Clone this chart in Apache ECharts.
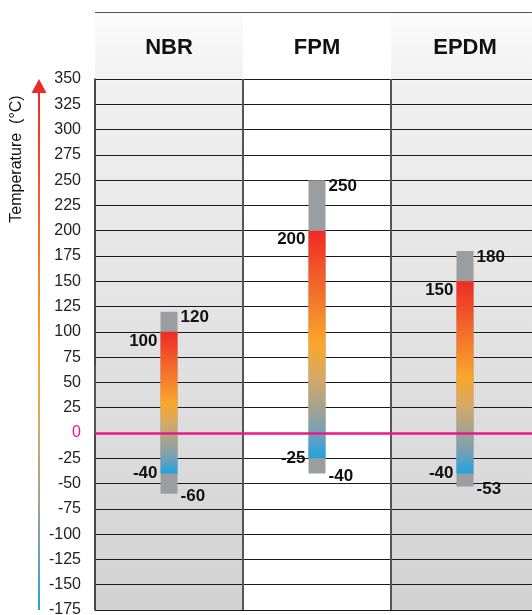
<!DOCTYPE html>
<html><head><meta charset="utf-8">
<script src="https://cdn.jsdelivr.net/npm/echarts@6/dist/echarts.min.js"></script>
<style>html,body{margin:0;padding:0;background:#fff;}#c{width:532px;height:615px;}</style>
</head><body><div id="c"></div>
<script>
// ---- data ----
const categories = ['NBR', 'FPM', 'EPDM'];
const maxTemp  = [120, 250, 180];   // top of grey segment
const highTemp = [100, 200, 150];   // top of coloured range
const lowTemp  = [-40, -25, -40];   // bottom of coloured range
const minTemp  = [-60, -40, -53];   // bottom of grey segment
const yMin = -175, yMax = 350, yStep = 25;
const axisTitle = 'Temperature  (°C)';

// ---- styles ----
const FONT = '"Liberation Sans", Arial, Helvetica, sans-serif';
const HEADER_H = 67;
const MAGENTA = '#e8198b';
const GREY = '#9b9ea0';
function heatGradient() {
  return new echarts.graphic.LinearGradient(0, 0, 0, 1, [
    {offset: 0, color: '#ee2a26'},
    {offset: 0.25, color: '#f26a2b'},
    {offset: 0.5, color: '#f9a72a'},
    {offset: 0.64, color: '#d8a964'},
    {offset: 0.78, color: '#a3a38f'},
    {offset: 0.89, color: '#74a0b8'},
    {offset: 1, color: '#1ea3e0'}
  ]);
}

const chart = echarts.init(document.getElementById('c'), null, {renderer: 'canvas'});

const barData = categories.map((c, i) => [i, minTemp[i], lowTemp[i], highTemp[i], maxTemp[i]]);

const labelStyle = (txt, x, y, align) => ({
  type: 'text',
  style: {text: txt, x: x, y: y, align: align, verticalAlign: 'middle',
          font: 'bold 17px ' + FONT, fill: '#111'}
});

chart.setOption({
  animation: false,
  grid: {left: 95, top: 79, width: 444, height: 531, containLabel: false, outerBoundsMode: 'none'},
  xAxis: {
    type: 'category', position: 'top', data: categories, boundaryGap: true,
    axisLine: {show: false},
    axisTick: {show: true, length: HEADER_H, lineStyle: {color: '#555', width: 2}},
    axisLabel: {margin: 31, verticalAlign: 'middle', fontSize: 22, fontWeight: 'bold', color: '#111', fontFamily: FONT},
    splitLine: {show: true, lineStyle: {color: '#555', width: 2}}
  },
  yAxis: {
    type: 'value', min: yMin, max: yMax, interval: yStep,
    axisLine: {show: true, lineStyle: {color: '#444', width: 1.5}},
    axisTick: {show: false},
    axisLabel: {margin: 14, fontSize: 16, fontFamily: FONT,
      color: v => (Number(v) === 0 ? MAGENTA : '#222')},
    splitLine: {show: true, lineStyle: {color: '#1a1a1a', width: 1}}
  },
  series: [
    { // column backgrounds + header top border
      type: 'custom', z: -1, silent: true,
      data: categories.map((c, i) => [i]),
      renderItem: (params, api) => {
        const i = api.value(0);
        const cx = api.coord([i, 0])[0];
        const bw = api.size([1, 0])[0];
        const cs = params.coordSys;
        const top = cs.y - HEADER_H, bottom = cs.y + cs.height;
        const children = [];
        if (i % 2 === 0) {
          children.push({type: 'rect', shape: {x: cx - bw / 2, y: top, width: bw, height: bottom - top},
            style: {fill: new echarts.graphic.LinearGradient(0, 0, 0, 1, [
              {offset: 0, color: '#fbfbfb'}, {offset: 0.13, color: '#f0f0f0'}, {offset: 1, color: '#d2d2d2'}])}});
        }
        children.push({type: 'line', shape: {x1: cx - bw / 2, y1: top + 0.5, x2: cx + bw / 2, y2: top + 0.5},
          style: {stroke: '#555', lineWidth: 1.2}});
        return {type: 'group', children};
      }
    },
    { // zero line
      type: 'line', data: [], z: 1, silent: true,
      markLine: {symbol: 'none', silent: true, label: {show: false},
        lineStyle: {color: MAGENTA, width: 2.5, type: 'solid'},
        data: [{yAxis: 0}]}
    },
    { // temperature bars
      type: 'custom', z: 3,
      data: barData,
      renderItem: (params, api) => {
        const i = api.value(0);
        const cx = api.coord([i, 0])[0];
        const bw = api.size([1, 0])[0] * 0.115;
        const yMn = api.coord([i, api.value(1)])[1];
        const yLo = api.coord([i, api.value(2)])[1];
        const yHi = api.coord([i, api.value(3)])[1];
        const yMx = api.coord([i, api.value(4)])[1];
        return {type: 'group', children: [
          {type: 'rect', shape: {x: cx - bw / 2, y: yMx, width: bw, height: yMn - yMx}, style: {fill: GREY}},
          {type: 'rect', shape: {x: cx - bw / 2, y: yHi, width: bw, height: yLo - yHi}, style: {fill: heatGradient()}},
          labelStyle(String(api.value(4)), cx + bw / 2 + 3, yMx + 6, 'left'),
          labelStyle(String(api.value(3)), cx - bw / 2 - 3, yHi + 9, 'right'),
          labelStyle(String(api.value(2)), cx - bw / 2 - 3, yLo, 'right'),
          labelStyle(String(api.value(1)), cx + bw / 2 + 3, yMn + 3, 'left')
        ]};
      }
    }
  ]
});

// axis arrow and title, placed from the y axis scale
const yTop = chart.convertToPixel({yAxisIndex: 0}, yMax);
const yBot = chart.convertToPixel({yAxisIndex: 0}, yMin);
const arrowX = 39;
chart.setOption({
  graphic: [
    {type: 'rect', shape: {x: arrowX - 1, y: yTop + 13, width: 2, height: yBot - yTop - 13},
      style: {fill: heatGradient()}},
    {type: 'polygon', shape: {points: [[arrowX, yTop], [arrowX - 7.5, yTop + 14], [arrowX + 7.5, yTop + 14]]},
      style: {fill: '#ee2a26'}},
    {type: 'text', x: 17, y: yTop + 80, rotation: Math.PI / 2,
      style: {text: axisTitle, align: 'center', verticalAlign: 'middle', font: '16px ' + FONT, fill: '#111'}}
  ]
});
</script>
</body></html>
